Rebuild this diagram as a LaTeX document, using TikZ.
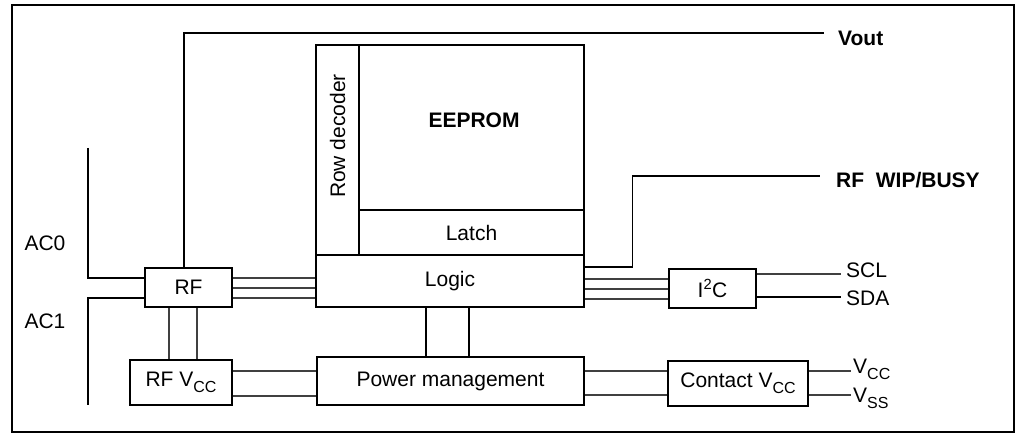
\documentclass[tikz,border=0pt]{standalone}
\usepackage{fontspec}
\setmainfont{Liberation Sans}
\newcommand\mysubs[1]{\raisebox{-6pt}{\fontsize{16}{18}\selectfont #1}}
\begin{document}
\begin{tikzpicture}[x=1pt,y=-1pt,
  blk/.style={draw, line width=2.9pt, inner sep=0pt, font=\fontsize{21}{25}\selectfont},
  bus/.style={draw=black!75, line width=1.3pt},
  wire/.style={draw=black, line width=1.3pt},
  lbl/.style={inner sep=0pt, font=\fontsize{21}{25}\selectfont},
  blbl/.style={inner sep=0pt, font=\fontsize{21}{25}\selectfont\bfseries}]
\useasboundingbox (0,0) rectangle (1016,435);
\draw[line width=2pt] (12,5) rectangle (1014,432);
% blocks
\node[blk, minimum width=43pt, minimum height=210pt] (rowdec) at (337.5,150) {};
\node[lbl, rotate=90] (rowdect) at (337.5,136) {Row decoder};
\node[blk, minimum width=225pt, minimum height=165pt] (eeprom) at (471.5,127.5) {};
\node[blbl] (eepromt) at (474,120) {EEPROM};
\node[blk, minimum width=225pt, minimum height=45pt] (latch) at (471.5,232.5) {Latch};
\node[blk, minimum width=268pt, minimum height=52pt] (logic) at (450,281) {\raisebox{-2pt}{Logic}};
\node[blk, minimum width=267pt, minimum height=48pt] (pm) at (450.5,381) {Power management};
\node[blk, minimum width=87pt, minimum height=39pt] (rf) at (188.5,287.5) {RF};
\node[blk, minimum width=102pt, minimum height=45pt] (rfvcc) at (181,382.5) {RF V\mysubs{CC}};
\node[blk, minimum width=87pt, minimum height=39pt] (i2c) at (712.5,288.5) {I\textsuperscript{2}C};
\node[blk, minimum width=140pt, minimum height=45pt] (contact) at (738,383.5) {Contact V\mysubs{CC}};
% labels
\node[blbl, anchor=west] (vout) at (838,38) {Vout};
\node[blbl, anchor=west] (wip) at (836,180) {RF\ \ WIP/BUSY};
\node[lbl, anchor=west] (scl) at (846,270) {SCL};
\node[lbl, anchor=west] (sda) at (846,298) {SDA};
\node[lbl, anchor=west] (vcc) at (853,369) {V\mysubs{CC}};
\node[lbl, anchor=west] (vss) at (853,398) {V\mysubs{SS}};
\node[lbl] (ac0) at (45,243) {AC0};
\node[lbl] (ac1) at (45,321) {AC1};
% free ends
\coordinate (voutend) at (824,33);
\coordinate (wipend) at (820,176);
\coordinate (ac0top) at (88,148);
\coordinate (ac1bot) at (88,405);
% connectors
\draw[wire] ([xshift=-4.5pt]rf.north) |- (voutend);
\draw[wire] ([yshift=14pt]logic.east) -- ++(47,0) |- (wipend);
\draw[wire] (ac0top) |- ([yshift=9.5pt]rf.west);
\draw[wire] ([yshift=-10.5pt]rf.west) -| (ac1bot);
\foreach \d in {9.5,-0.5,-10.5} {
  \draw[bus] ([yshift=\d pt]rf.east) -- ([yshift=\d pt]rf.east -| logic.west);
  \draw[bus] ([yshift=\d pt]i2c.west) -- ([yshift=\d pt]i2c.west -| logic.east);
}
\draw[bus] ([yshift=14.5pt]i2c.east) -- ++(84,0);
\draw[wire] ([yshift=-8.5pt]i2c.east) -- ++(84,0);
\foreach \d in {-24,19} {
  \draw[wire] ([xshift=\d pt]logic.south) -- ([xshift=\d pt]logic.south |- pm.north);
}
\foreach \d in {-19.5,8.5} {
  \draw[bus] ([xshift=\d pt]rf.south) -- ([xshift=\d pt]rf.south |- rfvcc.north);
}
\foreach \d in {11.5,-13.5} {
  \draw[bus] ([yshift=\d pt]rfvcc.east) -- ([yshift=\d pt]rfvcc.east -| pm.west);
}
\foreach \d in {12.5,-11.5} {
  \draw[bus] ([yshift=\d pt]contact.west) -- ([yshift=\d pt]contact.west -| pm.east);
  \draw[bus] ([yshift=\d pt]contact.east) -- ++(42,0);
}
\end{tikzpicture}
\end{document}
